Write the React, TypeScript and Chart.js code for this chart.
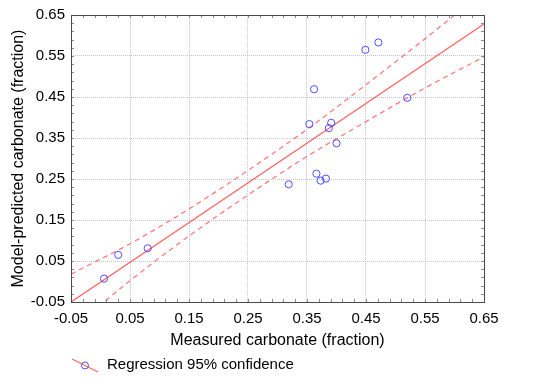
import React, { useEffect, useRef } from "react";
import { Chart, registerables } from "chart.js";

Chart.register(...registerables);

// Measured vs model-predicted carbonate (fraction)
const measured = [0.006, 0.030, 0.080, 0.319, 0.354, 0.362, 0.366, 0.373, 0.382, 0.387, 0.391, 0.400, 0.449, 0.471, 0.520];
const predicted = [0.007, 0.065, 0.081, 0.237, 0.384, 0.469, 0.263, 0.246, 0.251, 0.374, 0.387, 0.337, 0.565, 0.583, 0.448];

// Regression line end points
const fitX = [-0.05, 0.65];
const fitY = [-0.05, 0.628];

// 95% confidence band
const bandX = [-0.05, 0.05, 0.15, 0.25, 0.35, 0.45, 0.55, 0.65];
const upperBand = [0.018, 0.092, 0.177, 0.271, 0.371, 0.480, 0.592, 0.708];
const lowerBand = [-0.118, 0.002, 0.111, 0.211, 0.305, 0.390, 0.472, 0.548];

// Axis tick labels
const axisTicks = [-0.05, 0.05, 0.15, 0.25, 0.35, 0.45, 0.55, 0.65];

const FONT = "'Liberation Sans', Arial, Helvetica, sans-serif";
const RED = "rgba(255,70,70,0.85)";
const RED_DASH = "rgba(255,80,80,0.75)";
const BLUE = "rgba(60,60,255,0.9)";
const GRID = "rgba(175,175,195,0.75)";

export default function App() {
  const ref = useRef<HTMLCanvasElement>(null);

  useEffect(() => {
    const canvas = ref.current;
    if (!canvas) return;

    const framePlugin = {
      id: "frameAndLegend",
      afterDraw(chart: any) {
        const { ctx, chartArea: a, scales } = chart;
        const xs = scales.x;
        const ys = scales.y;
        ctx.save();
        // minor/major inward ticks on all four sides
        ctx.strokeStyle = "#8a8a8a";
        ctx.lineWidth = 1;
        ctx.beginPath();
        for (let i = 0; i <= 35; i++) {
          const v = -0.05 + i * 0.02;
          const px = Math.round(xs.getPixelForValue(v)) + 0.5;
          ctx.moveTo(px, a.bottom);
          ctx.lineTo(px, a.bottom - 3);
          ctx.moveTo(px, a.top);
          ctx.lineTo(px, a.top + 3);
          const py = Math.round(ys.getPixelForValue(v)) + 0.5;
          ctx.moveTo(a.left, py);
          ctx.lineTo(a.left + 3, py);
          ctx.moveTo(a.right, py);
          ctx.lineTo(a.right - 3, py);
        }
        ctx.stroke();
        // frame
        ctx.strokeStyle = "#4a4a4a";
        ctx.strokeRect(a.left + 0.5, a.top + 0.5, a.right - a.left, a.bottom - a.top);

        // legend
        ctx.strokeStyle = RED;
        ctx.lineWidth = 1.2;
        ctx.beginPath();
        ctx.moveTo(72, 359);
        ctx.lineTo(98, 372);
        ctx.stroke();
        ctx.strokeStyle = BLUE;
        ctx.lineWidth = 1;
        ctx.beginPath();
        ctx.arc(85, 365.5, 3.5, 0, Math.PI * 2);
        ctx.stroke();
        ctx.fillStyle = "#000";
        ctx.font = `15px ${FONT}`;
        ctx.textBaseline = "middle";
        ctx.textAlign = "left";
        ctx.fillText("Regression 95% confidence", 107, 364.5);
        ctx.restore();
      },
    };

    const tickCb = (v: any) => Number(v).toFixed(2);

    const chart = new Chart(canvas, {
      type: "scatter",
      data: {
        datasets: [
          {
            label: "Data",
            data: measured.map((x, i) => ({ x, y: predicted[i] })),
            showLine: false,
            pointStyle: "circle",
            pointRadius: 3.6,
            pointBorderWidth: 1,
            pointBorderColor: BLUE,
            pointBackgroundColor: "rgba(0,0,0,0)",
            borderColor: BLUE,
            backgroundColor: "rgba(0,0,0,0)",
          },
          {
            label: "Regression",
            data: fitX.map((x, i) => ({ x, y: fitY[i] })),
            showLine: true,
            pointRadius: 0,
            borderColor: RED,
            borderWidth: 1.3,
            clip: 0,
          },
          {
            label: "Upper 95%",
            data: bandX.map((x, i) => ({ x, y: upperBand[i] })),
            showLine: true,
            pointRadius: 0,
            borderColor: RED_DASH,
            borderWidth: 1.3,
            borderDash: [5, 4],
            cubicInterpolationMode: "monotone",
            clip: 0,
          },
          {
            label: "Lower 95%",
            data: bandX.map((x, i) => ({ x, y: lowerBand[i] })),
            showLine: true,
            pointRadius: 0,
            borderColor: RED_DASH,
            borderWidth: 1.3,
            borderDash: [5, 4],
            cubicInterpolationMode: "monotone",
            clip: 0,
          },
        ],
      },
      options: {
        animation: false,
        responsive: false,
        devicePixelRatio: 1,
        layout: { padding: { left: 0, top: 15, right: 69, bottom: 0 } },
        plugins: {
          legend: { display: false },
          tooltip: { enabled: false },
        },
        scales: {
          x: {
            type: "linear",
            min: -0.05,
            max: 0.65,
            afterBuildTicks: (s: any) => {
              s.ticks = axisTicks.map((v) => ({ value: v }));
            },
            afterFit: (s: any) => {
              s.height = 82;
            },
            ticks: {
              callback: tickCb,
              font: { size: 15, family: FONT },
              color: "#000",
              padding: 8,
              maxRotation: 0,
              autoSkip: false,
            },
            grid: { color: GRID, lineWidth: 1, drawTicks: false },
            border: { display: false, dash: [1, 1] },
            title: {
              display: true,
              text: "Measured carbonate (fraction)",
              font: { size: 16, family: FONT },
              color: "#000",
              padding: { top: 0, bottom: 34 },
            },
          },
          y: {
            type: "linear",
            min: -0.05,
            max: 0.65,
            afterBuildTicks: (s: any) => {
              s.ticks = axisTicks.map((v) => ({ value: v }));
            },
            afterFit: (s: any) => {
              s.width = 71;
            },
            ticks: {
              callback: tickCb,
              font: { size: 15, family: FONT },
              color: "#000",
              padding: 6,
              autoSkip: false,
            },
            grid: { color: GRID, lineWidth: 1, drawTicks: false },
            border: { display: false, dash: [1, 1] },
            title: {
              display: true,
              text: "Model-predicted carbonate (fraction)",
              font: { size: 16, family: FONT },
              color: "#000",
              padding: { top: 8.5, bottom: 0 },
            },
          },
        },
      },
      plugins: [framePlugin],
    } as any);

    return () => chart.destroy();
  }, []);

  return (
    <div style={{ position: "fixed", left: 0, top: 0, width: 553, height: 384, background: "#fff" }}>
      <canvas ref={ref} width={553} height={384} style={{ display: "block", width: 553, height: 384 }} />
    </div>
  );
}
